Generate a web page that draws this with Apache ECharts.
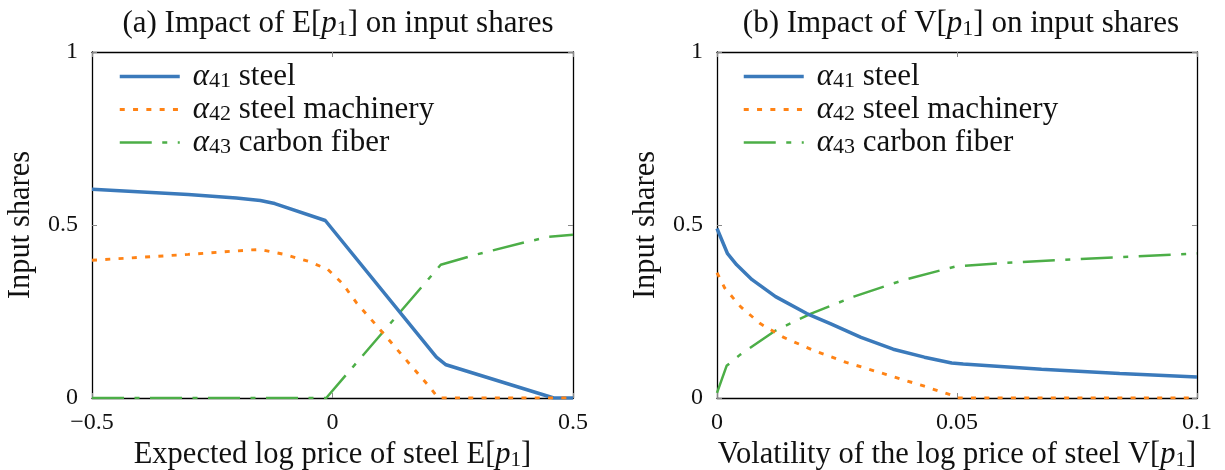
<!DOCTYPE html>
<html>
<head>
<meta charset="utf-8">
<script src="https://cdn.jsdelivr.net/npm/echarts@6/dist/echarts.min.js"></script>
<style>
html,body{margin:0;padding:0;background:#fff;}
#c{width:1225px;height:470px;}
</style>
</head>
<body>
<div id="c"></div>
<script>
// ---- Data ----
// Panel (a): x = E[p1]
const steelA = [[-0.5,0.603],[-0.3,0.588],[-0.2,0.578],[-0.15,0.571],[-0.12,0.562],[-0.015,0.513],[0.216,0.118],[0.236,0.096],[0.46,0],[0.5,0]];
const machA  = [[-0.5,0.398],[-0.3,0.415],[-0.17,0.428],[-0.15,0.429],[-0.1,0.415],[-0.05,0.395],[-0.01,0.372],[0.02,0.332],[0.05,0.275],[0.1,0.196],[0.15,0.115],[0.2,0.035],[0.22,0],[0.5,0]];
const fiberA = [[-0.5,0],[-0.013,0],[0.225,0.385],[0.3,0.415],[0.4,0.45],[0.45,0.466],[0.5,0.472]];
// Panel (b): x = V[p1]
const steelB = [[0,0.49],[0.0022,0.417],[0.0041,0.385],[0.0073,0.342],[0.0122,0.293],[0.0187,0.244],[0.0236,0.215],[0.03,0.175],[0.0367,0.141],[0.0432,0.118],[0.0489,0.101],[0.0513,0.098],[0.0676,0.083],[0.0839,0.071],[0.1,0.061]];
const machB  = [[0,0.362],[0.0016,0.318],[0.0049,0.264],[0.009,0.215],[0.0139,0.175],[0.0204,0.136],[0.0269,0.103],[0.035,0.069],[0.0432,0.034],[0.0489,0.008],[0.05,0],[0.1,0]];
const fiberB = [[0,0.015],[0.002,0.093],[0.0049,0.126],[0.0122,0.195],[0.0196,0.244],[0.0285,0.293],[0.0391,0.342],[0.0497,0.38],[0.0595,0.39],[0.0758,0.402],[0.1,0.418]];
const seriesNames = ['α41 steel','α42 steel machinery','α43 carbon fiber'];
const titles = ['(a) Impact of E[p1] on input shares','(b) Impact of V[p1] on input shares'];
const xNames = ['Expected log price of steel E[p1]','Volatility of the log price of steel V[p1]'];
const yName = 'Input shares';
const xRangeA = [-0.5, 0.5, 0.5];   // min, max, tick step
const xRangeB = [0, 0.1, 0.05];
const yRange = [0, 1, 0.5];

const FONT = 'Liberation Serif';
const FS = 31;
const NFS = 30.5;
const TFS = 24;
const colors = ['#3b7abb','#ff8315','#4cae47'];
const lineStyles = [
  {width:3.5, type:'solid'},
  {width:2.9, type:[5,8.3]},
  {width:2.5, type:[32,10.5,5,10.5]}
];
function makeRich(lh, fs){
  return {
    n:{fontFamily:FONT,fontSize:fs,fontWeight:'normal',color:'#111',lineHeight:lh},
    i:{fontFamily:FONT,fontSize:fs,fontWeight:'normal',fontStyle:'italic',color:'#111',lineHeight:lh},
    ia:{fontFamily:FONT,fontSize:fs,fontWeight:'normal',fontStyle:'italic',color:'#111',lineHeight:lh,padding:[0,0,0,8]},
    s:{fontFamily:FONT,fontSize:Math.round(fs*0.7),fontWeight:'normal',color:'#111',lineHeight:14,verticalAlign:'bottom'}
  };
}
// convert "E[p1]" style into rich text with italic p and subscript 1
function richify(str){
  return str.split(/(p1)/).map(seg => seg === 'p1' ? '{i|p}{s|1}' : (seg ? '{n|' + seg + '}' : '')).join('');
}

const chart = echarts.init(document.getElementById('c'), null, {renderer:'canvas'});

const grids = [
  {left:92, top:52, width:481, height:346, outerBoundsMode:'none', containLabel:false},
  {left:717, top:52, width:480, height:346, outerBoundsMode:'none', containLabel:false}
];

function fmtNum(v){ return String(v).replace('-', '\u2212'); }
const axLine = {show:true,onZero:false,lineStyle:{color:'#000',width:1.3}};
const axTick = {show:true,inside:true,length:5,lineStyle:{color:'#888',width:1}};

function xAxes(gi, r, name){
  return [
    {type:'value', gridIndex:gi, min:r[0], max:r[1], interval:r[2], position:'bottom',
     axisLine:axLine, axisTick:axTick,
     axisLabel:{fontFamily:FONT,fontSize:TFS,color:'#111',margin:13,formatter:fmtNum},
     splitLine:{show:false},
     name:richify(name), nameLocation:'middle', nameGap:36,
     nameTextStyle:{fontFamily:FONT,fontSize:NFS,color:'#111',rich:makeRich(32, NFS)}},
    {type:'value', gridIndex:gi, min:r[0], max:r[1], interval:r[2], position:'top',
     axisLine:axLine, axisTick:axTick,
     axisLabel:{show:false}, splitLine:{show:false}}
  ];
}
function yAxes(gi){
  return [
    {type:'value', gridIndex:gi, min:yRange[0], max:yRange[1], interval:yRange[2], position:'left',
     axisLine:axLine, axisTick:axTick,
     axisLabel:{fontFamily:FONT,fontSize:TFS,color:'#111',margin:14,formatter:fmtNum},
     splitLine:{show:false},
     name:yName, nameLocation:'middle', nameGap:56,
     nameTextStyle:{fontFamily:FONT,fontSize:NFS,color:'#111'}},
    {type:'value', gridIndex:gi, min:yRange[0], max:yRange[1], interval:yRange[2], position:'right',
     axisLine:axLine, axisTick:axTick,
     axisLabel:{show:false}, splitLine:{show:false}}
  ];
}

const dataSets = [[steelA,machA,fiberA],[steelB,machB,fiberB]];
const series = [];
dataSets.forEach((ds, gi) => {
  ds.forEach((d, k) => {
    series.push({
      type:'line', name:seriesNames[k], data:d,
      xAxisIndex:gi*2, yAxisIndex:gi*2,
      showSymbol:false, symbol:'none', smooth:false, animation:false,
      color:colors[k],
      lineStyle:Object.assign({color:colors[k]}, lineStyles[k]),
      z: k===0 ? 3 : (k===1 ? 4 : 2)
    });
  });
});

function legendFmt(name){
  const m = name.match(/^α(\d+) (.*)$/);
  return '{ia|α}{s|' + m[1] + '}{n| ' + m[2] + '}';
}
function legend(left){
  return {
    orient:'vertical', left:left, top:61, itemWidth:60, itemHeight:14, itemGap:1.5,
    data:seriesNames, selectedMode:false, padding:0,
    itemStyle:{opacity:0},
    lineStyle:{width:'inherit'},
    formatter:legendFmt,
    textStyle:{fontFamily:FONT,fontSize:FS,color:'#111',rich:makeRich(32, FS)}
  };
}

const option = {
  backgroundColor:'#fff',
  animation:false,
  title:[
    {text:richify(titles[0]), left:333, top:3, textAlign:'center',
     textStyle:{fontWeight:'normal',rich:makeRich(32, FS)}},
    {text:richify(titles[1]), left:956, top:3, textAlign:'center',
     textStyle:{fontWeight:'normal',rich:makeRich(32, FS)}}
  ],
  legend:[legend(118), legend(742)],
  grid:grids,
  xAxis:[].concat(xAxes(0, xRangeA, xNames[0]), xAxes(1, xRangeB, xNames[1])),
  yAxis:[].concat(yAxes(0), yAxes(1)),
  series:series
};
chart.setOption(option);
</script>
</body>
</html>
